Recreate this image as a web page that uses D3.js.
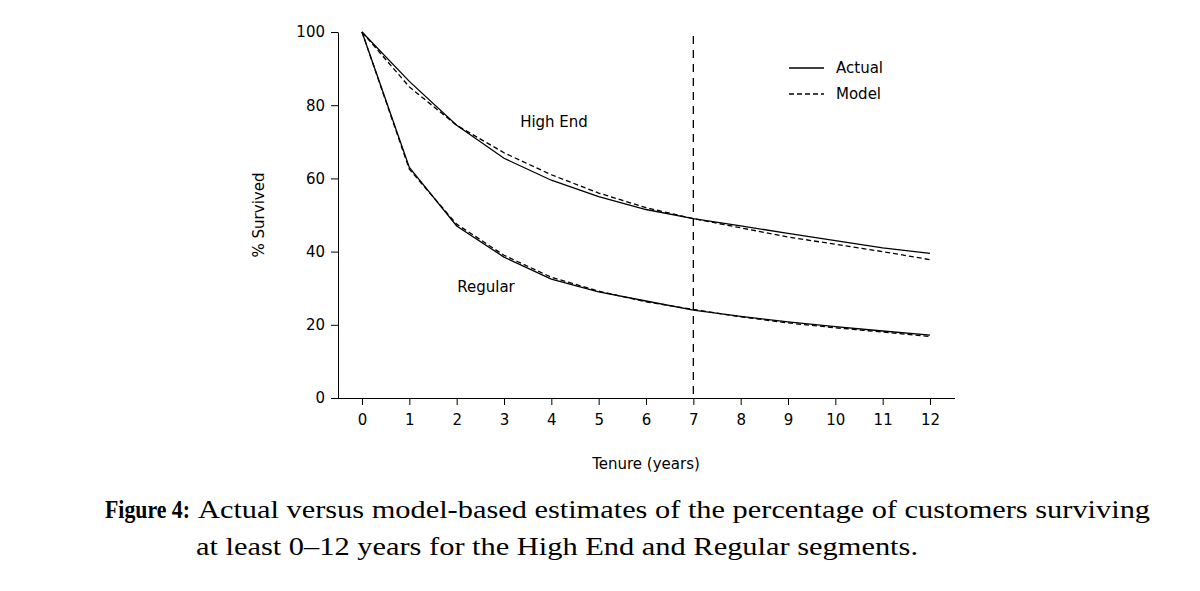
<!DOCTYPE html>
<html><head><meta charset="utf-8">
<script src="https://cdn.jsdelivr.net/npm/d3@7"></script>
<style>body{margin:0;background:#fff}</style>
</head><body>
<svg width="1200" height="591"></svg>
<script>
var years = [0,1,2,3,4,5,6,7,8,9,10,11,12];
var highActual = [100,86.5,74.5,65.5,59.5,55,51.5,49,47,45,43,41,39.5];
var highModel = [100,85,74.5,67,61,56,52,49,46.5,44,42,40,37.8];
var regActual = [100,63,47,38.5,32.5,29,26.5,24,22.3,20.8,19.5,18.3,17.2];
var regModel = [100,62.5,47.5,39,33,29.2,26.3,24.2,22.2,20.5,19.2,18,16.8];
var yTicks = [0,20,40,60,80,100];
var cutoff = 7;

var svg = d3.select("svg");
var font = "'DejaVu Sans', sans-serif";
var x = d3.scaleLinear().domain([0,12]).range([362,930]);
var y = d3.scaleLinear().domain([0,100]).range([398,32]);

// axes
var xAxis = d3.axisBottom(x).tickValues(years).tickSize(7).tickSizeOuter(0);
var gx = svg.append("g").attr("transform","translate(0,398)").call(xAxis);
gx.select(".domain").attr("d","M338,0.5H955");
var yAxis = d3.axisLeft(y).tickValues(yTicks).tickSize(7).tickSizeOuter(0);
var gy = svg.append("g").attr("transform","translate(338,0)").call(yAxis);
svg.selectAll(".tick text").style("font-family",font).style("font-size","15px").attr("fill","#000");
gx.selectAll(".tick text").attr("dy","1.1em");
gy.selectAll(".tick text").attr("dx","-3");
svg.selectAll(".domain,.tick line").attr("stroke","#000");

svg.append("text").attr("x",646).attr("y",469).attr("text-anchor","middle")
  .style("font-family",font).style("font-size","15px").text("Tenure (years)");
svg.append("text").attr("transform","translate(264,215) rotate(-90)").attr("text-anchor","middle")
  .style("font-family",font).style("font-size","15px").text("% Survived");

// cutoff line
svg.append("line").attr("x1",x(cutoff)).attr("x2",x(cutoff)).attr("y1",36).attr("y2",398)
  .attr("stroke","#000").attr("stroke-width",1.3).attr("stroke-dasharray","8,6");

var line = d3.line().x(function(d,i){return x(years[i]);}).y(function(d){return y(d);});
[[highActual,null],[highModel,"5,3"],[regActual,null],[regModel,"5,3"]].forEach(function(s){
  svg.append("path").attr("d",line(s[0])).attr("fill","none").attr("stroke","#000")
    .attr("stroke-width",1.3).attr("stroke-dasharray",s[1]);
});

svg.append("text").attr("x",554).attr("y",127).attr("text-anchor","middle")
  .style("font-family",font).style("font-size","15px").text("High End");
svg.append("text").attr("x",486).attr("y",292).attr("text-anchor","middle")
  .style("font-family",font).style("font-size","15px").text("Regular");

// legend
var legend = [["Actual",null],["Model","5,3"]];
legend.forEach(function(l,i){
  var ly = 68 + i*26;
  svg.append("line").attr("x1",789).attr("x2",824).attr("y1",ly).attr("y2",ly)
    .attr("stroke","#000").attr("stroke-width",1.3).attr("stroke-dasharray",l[1]);
  svg.append("text").attr("x",836).attr("y",ly+5).style("font-family",font).style("font-size","15px").text(l[0]);
});

// caption
var serif = "'Liberation Serif','DejaVu Serif',serif";
svg.append("text").attr("x",105).attr("y",518).style("font-family",serif).style("font-size","25px")
  .style("font-weight","bold").attr("textLength",85).attr("lengthAdjust","spacingAndGlyphs").text("Figure 4:");
svg.append("text").attr("x",198).attr("y",518).style("font-family",serif).style("font-size","25px")
  .attr("textLength",952).attr("lengthAdjust","spacingAndGlyphs")
  .text("Actual versus model-based estimates of the percentage of customers surviving");
svg.append("text").attr("x",196).attr("y",555).style("font-family",serif).style("font-size","25px")
  .attr("textLength",722).attr("lengthAdjust","spacingAndGlyphs")
  .text("at least 0\u201312 years for the High End and Regular segments.");
</script>
</body></html>
